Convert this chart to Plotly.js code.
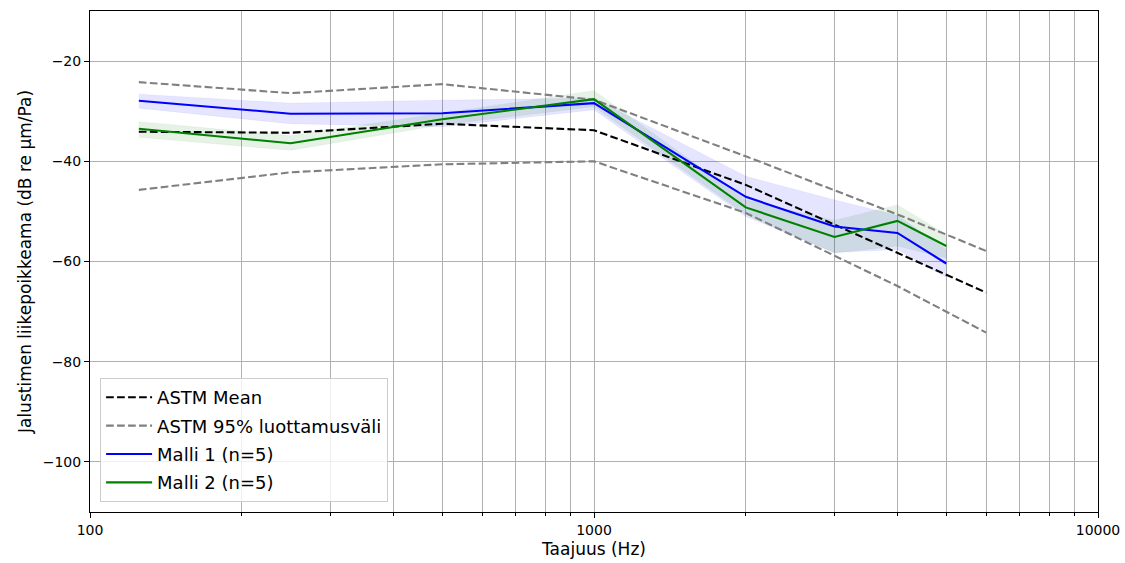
<!DOCTYPE html>
<html>
<head>
<meta charset="utf-8">
<script src="https://cdn.plot.ly/plotly-3.0.1.min.js"></script>
<style>html,body{margin:0;padding:0;background:#fff;}#chart{width:1125px;height:563px;}</style>
</head>
<body>
<div id="chart"></div>
<script>
// ASTM reference data
const astmFreq = [125, 250, 500, 1000, 2000, 3000, 4000, 6000];
const astmMean = [-34.1, -34.3, -32.5, -33.8, -44.7, -52.6, -58.3, -66.2];
const astmUpper = [-24.2, -26.4, -24.6, -27.7, -39.0, -45.7, -50.6, -57.9];
const astmLower = [-45.7, -42.2, -40.6, -40.0, -50.3, -58.9, -64.9, -74.2];

// Model data
const modelFreq = [125, 250, 500, 1000, 2000, 3000, 4000, 5000];
const malli1Mean = [-27.9, -30.5, -30.4, -28.4, -47.1, -53.0, -54.3, -60.4];
const malli1Upper = [-26.6, -28.4, -27.8, -27.4, -43.0, -47.7, -50.8, -57.6];
const malli1Lower = [-29.4, -32.5, -33.1, -29.7, -51.0, -58.2, -57.6, -63.2];
const malli2Mean = [-33.5, -36.4, -31.6, -27.6, -49.2, -55.1, -51.9, -56.9];
const malli2Upper = [-32.1, -34.9, -30.4, -25.9, -47.7, -51.8, -48.7, -54.6];
const malli2Lower = [-35.2, -37.8, -32.7, -29.1, -50.6, -58.3, -56.9, -59.3];

const legendLabels = ['ASTM Mean', 'ASTM 95% luottamusväli', 'Malli 1 (n=5)', 'Malli 2 (n=5)'];
const majorTicks = [100, 1000, 10000];
const minorTicks = [200, 300, 400, 500, 600, 700, 800, 900, 2000, 3000, 4000, 5000, 6000, 7000, 8000, 9000];
const yTicks = [-100, -80, -60, -40, -20];

function band(x, up, lo, color, group) {
  return {
    x: x.concat(x.slice().reverse()),
    y: up.concat(lo.slice().reverse()),
    type: 'scatter', mode: 'lines', fill: 'toself',
    fillcolor: color, line: {width: 0.5, color: color},
    hoverinfo: 'skip', showlegend: false, legendgroup: group
  };
}

const dash = '7.7px,3.3px';
const lw = 2.1;
const traces = [
  band(modelFreq, malli1Upper, malli1Lower, 'rgba(0,0,255,0.1)', 'm1'),
  band(modelFreq, malli2Upper, malli2Lower, 'rgba(0,128,0,0.1)', 'm2'),
  {x: astmFreq, y: astmMean, type: 'scatter', mode: 'lines', name: legendLabels[0],
   legendgroup: 'mean', line: {color: 'black', width: lw, dash: dash}},
  {x: astmFreq, y: astmUpper, type: 'scatter', mode: 'lines', name: legendLabels[1],
   legendgroup: 'ci', line: {color: 'gray', width: lw, dash: dash}},
  {x: astmFreq, y: astmLower, type: 'scatter', mode: 'lines', name: legendLabels[1],
   legendgroup: 'ci', showlegend: false, line: {color: 'gray', width: lw, dash: dash}},
  {x: modelFreq, y: malli1Mean, type: 'scatter', mode: 'lines', name: legendLabels[2],
   legendgroup: 'm1', line: {color: 'blue', width: lw}},
  {x: modelFreq, y: malli2Mean, type: 'scatter', mode: 'lines', name: legendLabels[3],
   legendgroup: 'm2', line: {color: 'green', width: lw}}
];

const gridColor = '#b0b0b0';
const layout = {
  width: 1125, height: 563,
  margin: {l: 90, r: 27, t: 11, b: 51},
  paper_bgcolor: 'white', plot_bgcolor: 'white',
  font: {family: 'DejaVu Sans, sans-serif', color: 'black', size: 14},
  showlegend: true,
  legend: {
    x: 0.01, y: 0.02, xanchor: 'left', yanchor: 'bottom',
    bgcolor: 'rgba(255,255,255,0.8)', bordercolor: '#cccccc', borderwidth: 1,
    font: {size: 18, family: 'DejaVu Sans, sans-serif'},
    traceorder: 'grouped', tracegroupgap: 2, itemwidth: 46
  },
  xaxis: {
    type: 'log', range: [2, 4],
    tickvals: majorTicks, ticktext: majorTicks.map(String),
    ticks: 'outside', ticklen: 5, tickcolor: 'black',
    showgrid: true, gridcolor: gridColor, gridwidth: 1,
    showline: true, linecolor: 'black', linewidth: 1, mirror: true,
    zeroline: false,
    minor: {tickvals: minorTicks, ticks: 'outside', ticklen: 3, tickcolor: 'black',
            showgrid: true, gridcolor: gridColor, gridwidth: 1},
    title: {text: 'Taajuus (Hz)', font: {size: 17}, standoff: 6}
  },
  yaxis: {
    range: [-110, -10],
    tickvals: yTicks,
    ticks: 'outside', ticklen: 5, tickcolor: 'black',
    showgrid: true, gridcolor: gridColor, gridwidth: 1,
    showline: true, linecolor: 'black', linewidth: 1, mirror: true,
    zeroline: false,
    title: {text: 'Jalustimen liikepoikkeama (dB re µm/Pa)', font: {size: 17}, standoff: 6}
  }
};

Plotly.newPlot('chart', traces, layout, {staticPlot: true, displayModeBar: false});
</script>
</body>
</html>
